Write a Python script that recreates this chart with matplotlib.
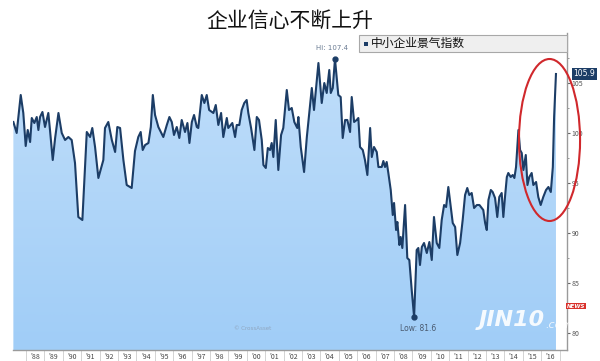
import matplotlib
matplotlib.use('Agg')
import matplotlib.pyplot as plt
import matplotlib.transforms as mtrans
import numpy as np
from matplotlib.patches import Ellipse, Rectangle, Polygon
from matplotlib.colors import LinearSegmentedColormap

plt.rcParams['font.family'] = ['Noto Sans CJK SC', 'DejaVu Sans']

title = '企业信心不断上升'
series_name = '中小企业景气指数'

dates = [1987.31, 1987.49, 1987.71, 1987.85, 1987.98, 1988.09, 1988.22, 1988.31, 1988.45, 1988.58,
         1988.67, 1988.76, 1988.89, 1989.03, 1989.21, 1989.30, 1989.45, 1989.58, 1989.76, 1989.94,
         1990.12, 1990.30, 1990.48, 1990.66, 1990.84, 1991.06, 1991.30, 1991.48, 1991.60, 1991.75,
         1991.93, 1992.20, 1992.29, 1992.47, 1992.66, 1992.84, 1992.96, 1993.11, 1993.29, 1993.47,
         1993.74, 1993.92, 1994.10, 1994.23, 1994.34, 1994.47, 1994.65, 1994.78, 1994.89, 1995.01,
         1995.19, 1995.46, 1995.65, 1995.79, 1995.92, 1996.04, 1996.19, 1996.33, 1996.46, 1996.64,
         1996.77, 1996.88, 1997.01, 1997.13, 1997.28, 1997.36, 1997.55, 1997.69, 1997.82, 1997.95,
         1998.18, 1998.31, 1998.45, 1998.60, 1998.72, 1998.91, 1998.99, 1999.21, 1999.36, 1999.45,
         1999.59, 1999.72, 1999.86, 1999.99, 2000.08, 2000.23, 2000.41, 2000.54, 2000.66, 2000.81,
         2000.90, 2001.03, 2001.14, 2001.26, 2001.35, 2001.44, 2001.57, 2001.71, 2001.86, 2001.98,
         2002.17, 2002.29, 2002.44, 2002.58, 2002.74, 2002.80, 2002.93, 2003.11, 2003.26, 2003.40,
         2003.53, 2003.65, 2003.89, 2004.07, 2004.21, 2004.34, 2004.48, 2004.56, 2004.67, 2004.79,
         2004.97, 2005.10, 2005.21, 2005.34, 2005.46, 2005.61, 2005.70, 2005.83, 2005.97, 2006.06,
         2006.15, 2006.30, 2006.42, 2006.55, 2006.70, 2006.79, 2006.91, 2007.06, 2007.15, 2007.33,
         2007.42, 2007.51, 2007.60, 2007.69, 2007.82, 2007.93, 2008.00, 2008.11, 2008.18, 2008.29,
         2008.36, 2008.45, 2008.60, 2008.72, 2008.83, 2008.96, 2009.09, 2009.23, 2009.32, 2009.41,
         2009.51, 2009.63, 2009.78, 2009.92, 2010.05, 2010.17, 2010.32, 2010.46, 2010.59, 2010.72,
         2010.83, 2010.95, 2011.08, 2011.19, 2011.32, 2011.44, 2011.59, 2011.73, 2011.86, 2011.98,
         2012.09, 2012.22, 2012.35, 2012.50, 2012.64, 2012.85, 2012.95, 2013.04, 2013.13, 2013.26,
         2013.36, 2013.49, 2013.61, 2013.72, 2013.85, 2013.94, 2014.03, 2014.13, 2014.21, 2014.34,
         2014.45, 2014.54, 2014.63, 2014.76, 2014.85, 2014.94, 2015.03, 2015.16, 2015.25, 2015.35,
         2015.48, 2015.57, 2015.72, 2015.84, 2015.97, 2016.11, 2016.26, 2016.39, 2016.52, 2016.63,
         2016.70, 2016.80]

values = [101.1, 100.0, 103.8, 102.0, 98.7, 100.3, 99.1, 101.5, 101.0, 101.6,
          100.3, 101.6, 102.1, 100.6, 102.0, 100.3, 97.3, 99.5, 102.0, 100.0,
          99.3, 99.6, 99.3, 97.0, 91.6, 91.3, 100.1, 99.6, 100.5, 98.6,
          95.5, 97.3, 100.5, 101.1, 99.3, 98.1, 100.6, 100.5, 97.3, 94.8,
          94.5, 98.2, 99.6, 100.1, 98.3, 98.8, 99.0, 100.6, 103.8, 101.8,
          100.6, 99.6, 100.8, 101.6, 101.1, 99.8, 100.6, 99.5, 101.3, 100.1,
          101.0, 99.0, 101.1, 101.8, 100.6, 100.5, 103.8, 103.0, 103.8, 102.3,
          102.0, 102.8, 100.8, 102.0, 99.6, 101.5, 100.5, 101.0, 99.6, 100.8,
          100.8, 102.3, 103.0, 103.3, 102.0, 100.5, 98.3, 101.6, 101.3, 99.3,
          96.8, 96.5, 98.5, 98.3, 99.0, 97.6, 101.3, 96.3, 99.8, 100.5,
          104.3, 102.3, 102.5, 101.1, 100.5, 101.6, 98.6, 96.1, 99.6, 102.1,
          104.5, 102.3, 107.0, 103.0, 105.0, 104.0, 106.3, 104.0, 104.5, 107.4,
          103.8, 103.6, 99.5, 101.3, 101.3, 100.1, 103.6, 101.1, 101.3, 101.5,
          98.6, 98.3, 97.3, 95.8, 100.5, 97.6, 98.6, 98.1, 96.6, 96.6,
          97.2, 96.6, 97.1, 96.0, 94.3, 91.8, 93.0, 90.3, 91.1, 88.8,
          89.6, 88.5, 92.8, 87.5, 87.3, 84.3, 81.6, 88.3, 88.5, 86.8,
          88.6, 89.0, 88.0, 89.1, 87.3, 91.6, 89.0, 88.5, 91.3, 92.8,
          92.6, 94.6, 92.6, 91.0, 90.6, 87.8, 89.0, 91.3, 93.8, 94.5,
          93.8, 94.0, 92.5, 92.8, 92.8, 92.3, 91.0, 90.3, 93.3, 94.3,
          94.1, 93.5, 91.6, 93.6, 94.0, 91.6, 93.6, 95.6, 96.0, 95.6,
          95.8, 95.5, 96.6, 100.3, 98.3, 98.0, 96.3, 97.8, 94.8, 95.6,
          96.0, 94.8, 95.1, 93.6, 92.8, 93.6, 94.3, 94.6, 94.1, 96.6,
          101.6, 105.9]

year_ticks = list(range(1988, 2018))
year_labels = ["'88", "'89", "'90", "'91", "'92", "'93", "'94", "'95", "'96", "'97",
               "'98", "'99", "'00", "'01", "'02", "'03", "'04", "'05", "'06", "'07",
               "'08", "'09", "'10", "'11", "'12", "'13", "'14", "'15", "'16"]
y_ticks = [80, 85, 90, 95, 100, 105]
y_minor = [82.5, 87.5, 92.5, 97.5, 102.5, 107.5]

W, H = 600, 361
fig = plt.figure(figsize=(W / 100, H / 100), dpi=100)
ax = fig.add_axes([13 / W, 11 / H, (567 - 13) / W, (350 - 33) / H])
YMIN, YMAX = 78.3, 110.0

# gradient area fill
verts = np.column_stack([np.r_[dates[0], dates, dates[-1]],
                         np.r_[YMIN, values, YMIN]])
poly = Polygon(verts, closed=True, fc='none', ec='none', transform=ax.transData)
ax.add_patch(poly)
grad = np.linspace(0, 1, 256).reshape(-1, 1)
cmap = LinearSegmentedColormap.from_list('g', ['#A0CDF7', '#C0DEFA'])
im = ax.imshow(grad, extent=[dates[0], dates[-1], YMIN, 108], origin='lower',
               aspect='auto', cmap=cmap, zorder=1, interpolation='bicubic')
im.set_clip_path(poly)
ax.set_xlim(1987.29, 2017.40)
ax.set_ylim(YMIN, YMAX)

line_col = '#1C3D66'
ax.plot(dates, values, color=line_col, lw=1.5, zorder=3, solid_joinstyle='round')

# hi / low markers
i_hi = int(np.argmax(values))
i_lo = int(np.argmin(values))
ax.plot([dates[i_hi]], [values[i_hi]], 'o', color=line_col, ms=3.5, zorder=4)
ax.plot([dates[i_lo]], [values[i_lo]], 'o', color=line_col, ms=3.5, zorder=4)
ax.annotate('Hi: %.1f' % values[i_hi], (dates[i_hi], values[i_hi]), xytext=(-2, 6),
            textcoords='offset points', ha='center', va='bottom', fontsize=5,
            color='#6B7C93', family=['DejaVu Sans'])
ax.annotate('Low: %.1f' % values[i_lo], (dates[i_lo], values[i_lo]), xytext=(3, -5),
            textcoords='offset points', ha='center', va='top', fontsize=5.5,
            color='#4A5A70', family=['DejaVu Sans'])

# spines
for s in ['top', 'left']:
    ax.spines[s].set_visible(False)
ax.spines['right'].set_color('#9A9A9A')
ax.spines['bottom'].set_color('#9A9A9A')
ax.spines['right'].set_linewidth(1.0)
ax.spines['bottom'].set_linewidth(1.0)

ax.yaxis.tick_right()
ax.set_yticks(y_ticks)
ax.set_yticklabels([str(v) for v in y_ticks])
ax.set_yticks(y_minor, minor=True)
ax.tick_params(axis='y', which='major', length=2.5, width=0.8, color='#666666',
               labelsize=5, labelcolor='#555555', pad=1)
ax.tick_params(axis='y', which='minor', length=1.5, width=0.6, color='#888888')

ax.set_xticks(year_ticks)
ax.set_xticklabels([''] * len(year_ticks))
ax.set_xticks([y + 0.5 for y in year_ticks[:-1]], minor=True)
ax.set_xticklabels(year_labels, minor=True)
ax.tick_params(axis='x', which='major', length=8, width=0.6, color='#CCCCCC', direction='out')
ax.tick_params(axis='x', which='minor', length=0, labelsize=5, labelcolor='#444444', pad=2.5)

# last value badge
trans = mtrans.blended_transform_factory(ax.transAxes, ax.transData)
ax.text(1.012, values[-1], '%.1f' % values[-1], transform=trans, fontsize=5.5,
        color='white', va='center', ha='left', family=['DejaVu Sans'],
        bbox=dict(boxstyle='square,pad=0.2', fc=line_col, ec='none'), zorder=6, clip_on=False)

# red ellipse highlight
ax.add_patch(Ellipse((2016.45, 99.3), width=3.32, height=16.2, fill=False,
                     ec='#D0282C', lw=1.5, clip_on=False, zorder=5))

# faint source text
ax.text(2000.3, 80.4, '© CrossAsset', fontsize=4, color='#8FA6C0', ha='center', va='center',
        family=['DejaVu Sans'])

# watermark
fig.text(479 / W, 1 - 320 / H, 'JIN10', fontsize=16, fontweight='bold', fontstyle='italic',
         color='white', alpha=0.9, ha='left', va='center', family=['DejaVu Sans'])
fig.text(545 / W, 1 - 325 / H, '.com', fontsize=8, fontstyle='italic',
         color='white', alpha=0.8, ha='left', va='center', family=['DejaVu Sans'])
fig.text(576 / W, 1 - 306 / H, 'NEWS', fontsize=4, fontstyle='italic', fontweight='bold',
         color='white', ha='center', va='center', family=['DejaVu Sans'],
         bbox=dict(boxstyle='square,pad=0.15', fc='#D9312B', ec='none'))

# legend box
fig.add_artist(Rectangle((359 / W, 1 - 52 / H), 208 / W, 17 / H, transform=fig.transFigure,
                         fc='#EFEFEF', ec='#A8A8A8', lw=0.8))
fig.add_artist(Rectangle((364 / W, 1 - 46 / H), 4 / W, 4 / H, transform=fig.transFigure,
                         fc=line_col, ec='none'))
fig.text(371 / W, 1 - 43.5 / H, series_name, fontsize=8.5, color='#111111',
         ha='left', va='center')

# title
fig.text(290 / W, 1 - 21 / H, title, fontsize=15, color='#111111', ha='center', va='center')

fig.savefig('out.png', dpi=100)
